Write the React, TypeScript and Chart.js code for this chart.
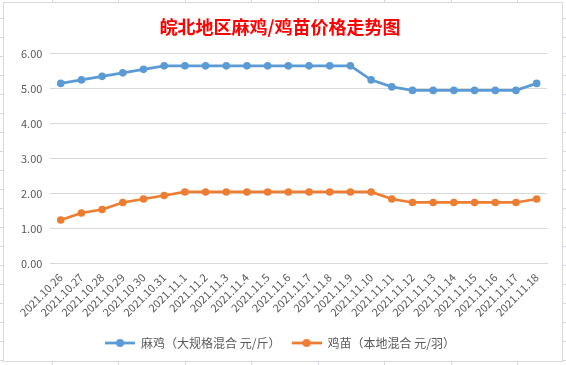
import React, { useEffect, useRef } from "react";
import { Chart, registerables } from "chart.js";

Chart.register(...registerables);

const titleText = "皖北地区麻鸡/鸡苗价格走势图";

const categories = [
  "2021.10.26", "2021.10.27", "2021.10.28", "2021.10.29", "2021.10.30", "2021.10.31",
  "2021.11.1", "2021.11.2", "2021.11.3", "2021.11.4", "2021.11.5", "2021.11.6",
  "2021.11.7", "2021.11.8", "2021.11.9", "2021.11.10", "2021.11.11", "2021.11.12",
  "2021.11.13", "2021.11.14", "2021.11.15", "2021.11.16", "2021.11.17", "2021.11.18",
];

const seriesNames = ["麻鸡（大规格混合 元/斤）", "鸡苗（本地混合 元/羽）"];

const chickenPrices = [
  5.15, 5.25, 5.35, 5.45, 5.55, 5.65, 5.65, 5.65, 5.65, 5.65, 5.65, 5.65,
  5.65, 5.65, 5.65, 5.25, 5.05, 4.95, 4.95, 4.95, 4.95, 4.95, 4.95, 5.15,
];

const chickPrices = [
  1.25, 1.45, 1.55, 1.75, 1.85, 1.95, 2.05, 2.05, 2.05, 2.05, 2.05, 2.05,
  2.05, 2.05, 2.05, 2.05, 1.85, 1.75, 1.75, 1.75, 1.75, 1.75, 1.75, 1.85,
];

const seriesColors = ["#5b9bd5", "#ed7d31"];

const FONT = "'Noto Sans CJK SC', 'Noto Sans', sans-serif";
const TEXT_COLOR = "#595959";
const GRID_COLOR = "#d9d9d9";

function makeLegendMarker(color: string): HTMLCanvasElement {
  const c = document.createElement("canvas");
  c.width = 30;
  c.height = 10;
  const ctx = c.getContext("2d")!;
  ctx.strokeStyle = color;
  ctx.lineWidth = 2.75;
  ctx.beginPath();
  ctx.moveTo(0, 5);
  ctx.lineTo(30, 5);
  ctx.stroke();
  ctx.fillStyle = color;
  ctx.beginPath();
  ctx.arc(15, 5, 4, 0, Math.PI * 2);
  ctx.fill();
  return c;
}

export default function App() {
  const canvasRef = useRef<HTMLCanvasElement | null>(null);

  useEffect(() => {
    if (!canvasRef.current) return;
    const markers = seriesColors.map(makeLegendMarker);
    const chart = new Chart(canvasRef.current, {
      type: "line",
      data: {
        labels: categories,
        datasets: [
          {
            label: seriesNames[0],
            data: chickenPrices,
            borderColor: seriesColors[0],
            backgroundColor: seriesColors[0],
            borderWidth: 2.75,
            pointRadius: 3.8,
            pointHoverRadius: 3.8,
            pointBorderWidth: 0,
            tension: 0,
          },
          {
            label: seriesNames[1],
            data: chickPrices,
            borderColor: seriesColors[1],
            backgroundColor: seriesColors[1],
            borderWidth: 2.75,
            pointRadius: 3.8,
            pointHoverRadius: 3.8,
            pointBorderWidth: 0,
            tension: 0,
          },
        ],
      },
      options: {
        animation: false,
        responsive: false,
        maintainAspectRatio: false,
        layout: { padding: { left: 9, right: 15, top: 0, bottom: 2 } },
        plugins: {
          title: {
            display: true,
            text: titleText,
            color: "#ff0000",
            font: { family: FONT, size: 18, weight: "bold" },
            padding: { top: 13, bottom: 16 },
          },
          legend: {
            position: "bottom",
            labels: {
              color: TEXT_COLOR,
              font: { family: FONT, size: 12 },
              usePointStyle: true,
              pointStyleWidth: 30,
              padding: 11,
              generateLabels: (ch: any) => {
                const items = Chart.defaults.plugins.legend.labels.generateLabels(ch);
                items.forEach((it: any, i: number) => {
                  it.pointStyle = markers[i];
                });
                return items;
              },
            },
          },
          tooltip: { enabled: false },
        },
        scales: {
          x: {
            offset: true,
            grid: { display: false, drawTicks: false },
            border: { display: true, color: GRID_COLOR, width: 1 },
            ticks: {
              color: TEXT_COLOR,
              font: { family: FONT, size: 11 },
              minRotation: 45,
              maxRotation: 45,
              autoSkip: false,
              padding: 7,
            },
          },
          y: {
            min: 0,
            max: 6,
            grid: { color: GRID_COLOR, drawTicks: false, lineWidth: 1 },
            border: { display: false },
            ticks: {
              stepSize: 1,
              color: TEXT_COLOR,
              font: { family: FONT, size: 11 },
              padding: 8,
              callback: (v: any) => Number(v).toFixed(2),
            },
          },
        },
      },
    });
    return () => chart.destroy();
  }, []);

  return (
    <div
      style={{
        position: "fixed",
        left: 0,
        top: 0,
        width: 566,
        height: 365,
        backgroundColor: "#ffffff",
        backgroundImage:
          "repeating-linear-gradient(to right, transparent 0px, transparent 52px, #d4d7df 52px, #d4d7df 53px, transparent 53px, transparent 66.5px), repeating-linear-gradient(to bottom, transparent 0px, transparent 18px, #d4d7df 18px, #d4d7df 19px)",
      }}
    >
      <div
        style={{
          position: "absolute",
          left: 3,
          top: 2,
          width: 558,
          height: 358,
          border: "1px solid #d9d9d9",
          background: "#ffffff",
        }}
      >
        <canvas ref={canvasRef} width={558} height={358} style={{ display: "block" }} />
      </div>
    </div>
  );
}
